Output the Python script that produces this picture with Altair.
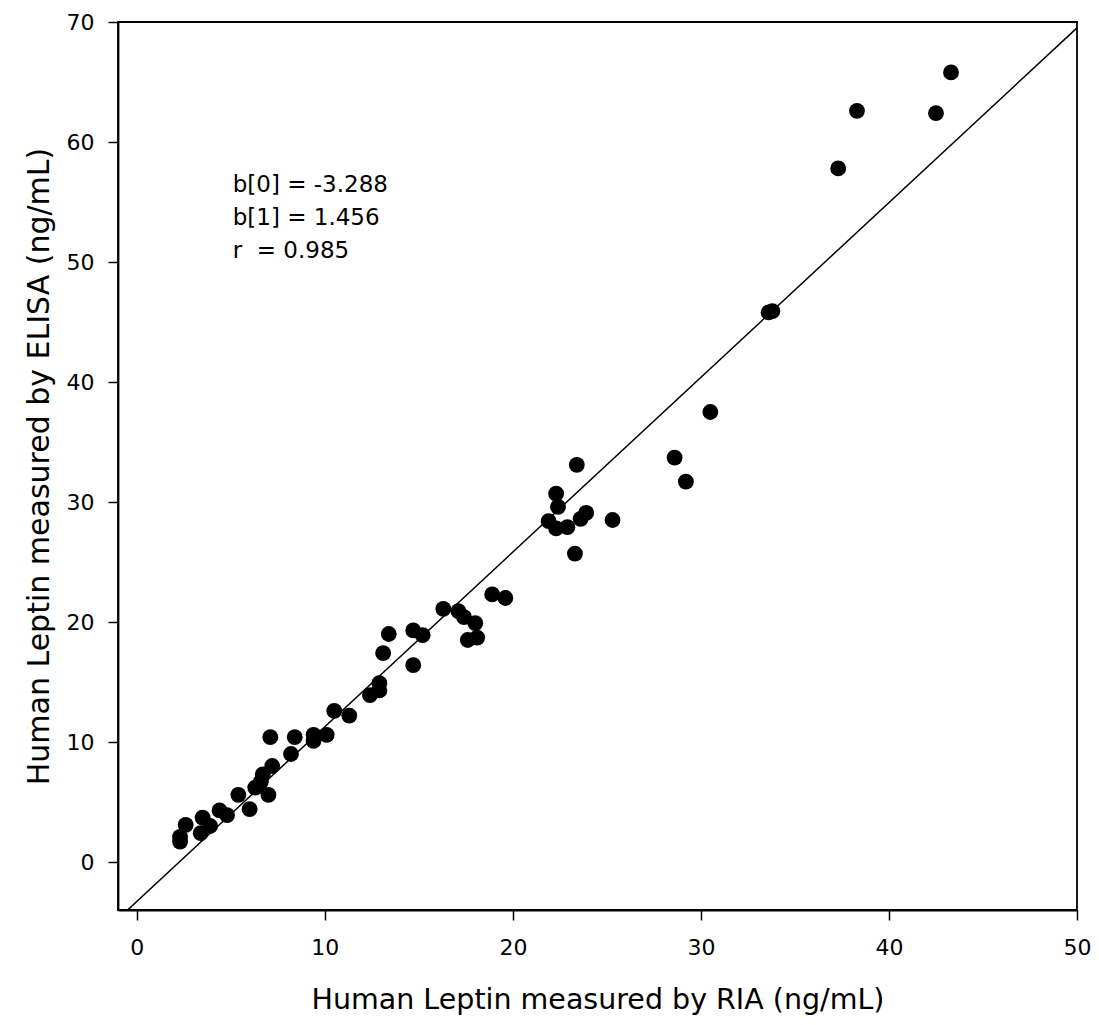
import altair as alt
import pandas as pd

# RIA (x) and ELISA (y) values, ng/mL
ria = [2.3, 2.3, 2.6, 3.4, 3.5, 3.9, 4.4, 4.8, 5.4, 6.0, 6.3, 6.6, 6.7, 7.0, 7.2,
       7.1, 8.2, 8.4, 9.4, 9.4, 10.1, 10.5, 11.3, 12.4, 12.9, 12.9, 13.1, 13.4,
       14.7, 14.7, 15.2, 16.3, 17.1, 17.4, 18.0, 17.6, 18.1, 18.9, 19.6,
       21.9, 22.3, 22.3, 22.4, 22.9, 23.4, 23.3, 23.6, 23.9, 25.3,
       28.6, 29.2, 30.5, 33.6, 33.8, 37.3, 38.3, 42.5, 43.3]
elisa = [1.7, 2.1, 3.1, 2.4, 3.7, 3.0, 4.3, 3.9, 5.6, 4.4, 6.2, 6.7, 7.3, 5.6, 8.0,
         10.4, 9.0, 10.4, 10.1, 10.6, 10.6, 12.6, 12.2, 13.9, 14.3, 14.9, 17.4, 19.0,
         16.4, 19.3, 18.9, 21.1, 20.9, 20.4, 19.9, 18.5, 18.7, 22.3, 22.0,
         28.4, 30.7, 27.8, 29.6, 27.9, 33.1, 25.7, 28.6, 29.1, 28.5,
         33.7, 31.7, 37.5, 45.8, 45.9, 57.8, 62.6, 62.4, 65.8]

# regression coefficients
b0 = -3.288
b1 = 1.456
r = 0.985
line_x = [-1, 50]

annot_text = [f"b[0] = {b0}", f"b[1] = {b1}", f"r\u00a0 = {r}"]
annot_x = [5.1, 5.1, 5.1]
annot_y = [56.4, 53.65, 50.9]

x_ticks = [0, 10, 20, 30, 40, 50]
y_ticks = [0, 10, 20, 30, 40, 50, 60, 70]

FONT = "DejaVu Sans"

pts = pd.DataFrame({"ria": ria, "elisa": elisa})
ln = pd.DataFrame({"ria": line_x})
ann = pd.DataFrame({"ria": annot_x, "elisa": annot_y, "t": annot_text})

xs = alt.Scale(domain=[-1, 50], nice=False, zero=False)
ys = alt.Scale(domain=[-4, 70], nice=False, zero=False)

common = dict(grid=False, tickSize=10, labelFontSize=22, labelFont=FONT,
              titleFont=FONT, labelColor="black", titleColor="black",
              tickColor="black", domainColor="black", tickWidth=1.5,
              domainWidth=1.8, titleFontWeight="normal", labelFlush=False)

xax = alt.Axis(values=x_ticks, title="Human Leptin measured by RIA (ng/mL)",
               labelPadding=17, titlePadding=27, titleFontSize=28.5, **common)
yax = alt.Axis(values=y_ticks, title="Human Leptin measured by ELISA (ng/mL)",
               labelPadding=14, titlePadding=12, titleFontSize=30, **common)

points = alt.Chart(pts).mark_circle(size=250, color="black", opacity=1).encode(
    x=alt.X("ria:Q", scale=xs, axis=xax),
    y=alt.Y("elisa:Q", scale=ys, axis=yax),
)

reg = alt.Chart(ln).transform_calculate(
    elisa=f"{b0} + {b1} * datum.ria"
).mark_line(color="black", strokeWidth=1.5, clip=True).encode(
    x=alt.X("ria:Q", scale=xs),
    y=alt.Y("elisa:Q", scale=ys),
)

text = alt.Chart(ann).mark_text(align="left", baseline="middle", fontSize=23,
                                font=FONT, color="black").encode(
    x=alt.X("ria:Q", scale=xs),
    y=alt.Y("elisa:Q", scale=ys),
    text="t:N",
)

chart = alt.layer(reg, points, text).properties(
    width=959, height=888,
    autosize=alt.AutoSizeParams(type="none"),
    padding={"left": 110, "top": 14, "right": 14, "bottom": 110},
    background="white",
).configure_view(stroke="black", strokeWidth=1.8)

chart.save("out.html", embed_options={"renderer": "svg", "actions": False})
